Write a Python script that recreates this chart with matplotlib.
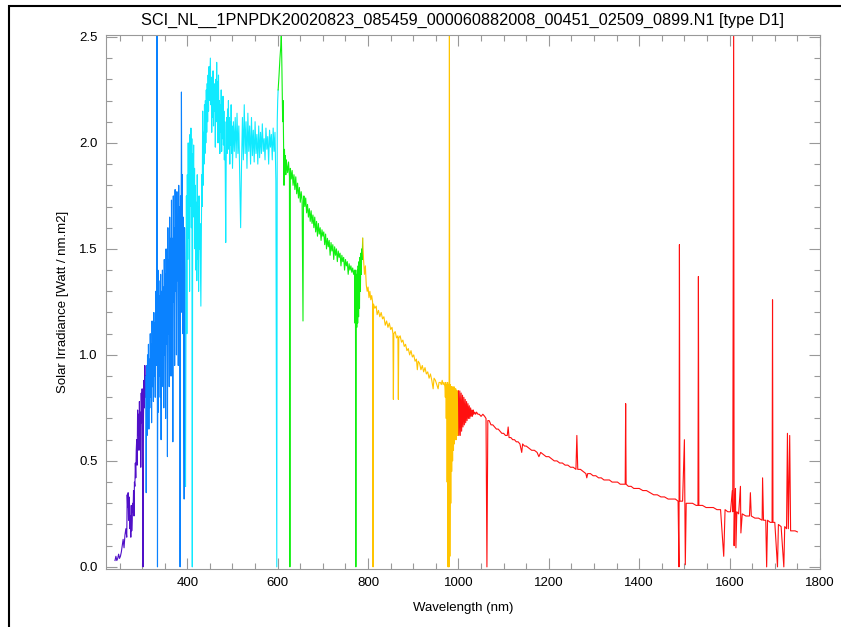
import matplotlib
matplotlib.use("Agg")
import matplotlib.pyplot as plt
from matplotlib.patches import Rectangle
from matplotlib.ticker import MultipleLocator, FormatStrFormatter

plt.rcParams['font.family'] = ['Liberation Sans', 'DejaVu Sans']

TITLE = "SCI_NL__1PNPDK20020823_085459_000060882008_00451_02509_0899.N1 [type D1]"

# irradiance per channel colour band (wavelength nm, W / nm.m2)
violet_wl = [240, 242, 244, 246, 248, 250, 252, 254, 256, 258, 260, 262, 264, 266, 267, 268,
             269, 270, 271, 272, 273, 274, 275, 276, 277, 278, 279, 280, 281, 282, 283, 284,
             285, 286, 287, 288, 289, 290, 291, 292, 293, 294, 295, 296, 297, 298, 299, 300,
             301, 302, 303, 304, 305, 306, 307, 308]
violet_irr = [.03, .05, .03, .04, .06, .04, .05, .07, .10, .13, .09, .15, .18, .14, .34, .28,
              .35, .22, .33, .30, .18, .24, .14, .29, .17, .22, .30, .26, .36, .24, .40, .38,
              .49, .42, .55, .60, .48, .74, .62, .72, .55, .78, .60, .73, .47, .82, .68, .84,
              .45, 0.0, .70, .88, .75, .95, .80, .90]

blue_wl = [308, 309, 310, 311, 312, 313, 314, 315, 316, 317, 318, 319, 320, 321, 322, 323,
           324, 325, 326, 327, 328, 329, 330, 331, 332, 333, 334, 335, 336, 337, 338, 339,
           340, 341, 342, 343, 344, 345, 346, 347, 348, 349, 350, 351, 352, 353, 354, 355,
           356, 357, 358, 359, 360, 361, 362, 363, 364, 365, 366, 367, 368, 369, 370, 371,
           372, 373, 374, 375, 376, 377, 378, 379, 380, 381, 382, 383, 384, 385, 386, 387,
           388, 389, 390, 391, 392, 393, 394, 395, 396]
blue_irr = [.90, .35, .95, .62, 1.00, .70, 1.05, .65, .98, .75, 1.10, .80, 1.05, .68, 1.16, .85,
            1.10, .78, 1.20, .90, 1.15, .80, 1.30, .95, 1.25, 2.6, 0.0, 1.40, .73, 1.35, .90, 1.28,
            .80, 1.38, .60, 1.30, .85, 1.40, .95, 1.32, .75, 1.45, 1.00, 1.38, .70, 1.50, 1.05, 1.40,
            .52, 1.60, 1.10, 1.45, .85, 1.65, 1.15, 1.55, .90, 1.73, 1.20, 1.55, .59, 1.75, 1.25, 1.60,
            .95, 1.78, 1.30, 1.62, 1.00, 1.77, 1.35, 1.65, .95, 1.80, 1.40, 1.70, 0.0, 1.75, 1.20, 2.24,
            1.45, 1.85, 1.10, 1.65, .85, .32, 1.60, 1.40, .38]

cyan_wl = [396, 398, 399, 400, 401, 402, 403, 404, 405, 406, 407, 408, 409, 410, 411, 412,
           413, 414, 415, 416, 417, 418, 419, 420, 421, 422, 423, 424, 425, 426, 427, 428,
           429, 430, 431, 432, 433, 434, 435, 436, 437, 438, 439, 440, 441, 442, 443, 444,
           445, 446, 447, 448, 449, 450, 451, 452, 453, 454, 455, 456, 457, 458, 459, 460,
           461, 462, 463, 464, 465, 466, 467, 468, 469, 470, 471, 472, 473, 474, 475, 476,
           477, 478, 479, 480, 481, 482, 483, 484, 485, 486, 487, 488, 489, 490, 491, 492,
           493, 494, 495, 496, 497, 498, 499, 500, 502, 504, 506, 508, 510, 512, 514, 516,
           518, 520, 522, 524, 526, 528, 530, 532, 534, 536, 538, 540, 542, 544, 546, 548,
           550, 552, 554, 556, 558, 560, 562, 564, 566, 568, 570, 572, 574, 576, 578, 580,
           582, 584, 586, 588, 590, 592, 594, 596, 598, 599, 600, 601]
cyan_irr = [.38, 1.75, 1.10, 1.85, 1.45, 2.00, 1.55, 1.96, 1.30, 2.04, 1.70, 2.07, 1.60, 2.02, 0.0, 1.95,
            1.80, 1.99, 1.65, 1.88, 1.50, 1.80, 1.40, 1.72, 1.35, 1.85, 1.45, 1.70, 1.30, 1.75, 1.50, 1.62,
            1.40, 1.23, 1.55, 1.85, 1.70, 2.15, 1.80, 2.05, 1.90, 2.18, 1.95, 2.20, 2.00, 2.25, 2.05, 2.28,
            2.10, 2.32, 2.15, 2.36, 2.20, 2.30, 2.40, 2.18, 2.31, 2.05, 2.30, 2.12, 2.34, 2.08, 2.28, 2.15,
            2.26, 1.98, 2.30, 2.10, 2.38, 2.15, 2.29, 2.00, 2.32, 2.04, 2.20, 1.95, 2.18, 2.05, 2.25, 1.96,
            2.15, 2.02, 2.22, 1.99, 2.15, 1.92, 2.10, 1.85, 1.53, 1.90, 2.12, 1.95, 2.16, 2.00, 2.20, 1.97,
            2.12, 1.90, 2.10, 1.99, 2.18, 1.95, 2.08, 1.88, 2.10, 1.96, 2.12, 1.93, 2.14, 1.95, 2.08, 1.85,
            1.60, 1.90, 2.12, 1.92, 2.18, 1.95, 2.10, 1.88, 2.14, 1.96, 2.08, 1.90, 2.12, 1.94, 2.06, 1.91,
            2.10, 1.95, 2.04, 1.90, 2.08, 1.93, 2.05, 1.95, 2.09, 1.96, 2.02, 1.92, 2.07, 1.97, 2.03, 1.90,
            2.06, 1.98, 2.04, 1.92, 2.07, 1.96, 2.05, 1.82, 0.0, 2.10, 2.20, 2.25]

green_wl = [601, 603, 605, 607, 608, 609, 610, 611, 612, 613, 614, 615, 616, 617, 618, 619,
            620, 622, 624, 626, 627, 628, 630, 632, 634, 636, 638, 640, 642, 644, 646, 648,
            650, 652, 654, 656, 657, 658, 660, 662, 664, 666, 668, 670, 672, 674, 676, 678,
            680, 682, 684, 686, 688, 690, 692, 694, 696, 698, 700, 702, 704, 706, 708, 710,
            712, 714, 716, 718, 720, 722, 724, 726, 728, 730, 732, 734, 736, 738, 740, 742,
            744, 746, 748, 750, 752, 754, 756, 758, 760, 762, 764, 766, 768, 770, 771, 772,
            773, 774, 775, 776, 777, 778, 779, 780, 781, 782, 783, 784, 785, 786, 787, 788]
green_irr = [2.25, 2.32, 2.40, 2.46, 2.51, 2.40, 2.25, 2.10, 2.20, 2.00, 1.80, 1.97, 1.88, 1.94, 1.85, 1.92,
             1.90, 1.86, 1.91, 1.84, 0.0, 1.88, 1.83, 1.87, 1.80, 1.85, 1.78, 1.84, 1.76, 1.81, 1.74, 1.79,
             1.72, 1.77, 1.73, 1.16, 1.72, 1.75, 1.70, 1.74, 1.67, 1.71, 1.65, 1.69, 1.63, 1.68, 1.62, 1.66,
             1.60, 1.65, 1.58, 1.63, 1.56, 1.62, 1.57, 1.60, 1.54, 1.59, 1.56, 1.58, 1.52, 1.57, 1.50, 1.55,
             1.51, 1.54, 1.47, 1.53, 1.49, 1.52, 1.45, 1.51, 1.47, 1.50, 1.44, 1.49, 1.46, 1.48, 1.42, 1.47,
             1.44, 1.46, 1.40, 1.45, 1.42, 1.44, 1.38, 1.43, 1.40, 1.42, 1.39, 1.41, 1.38, 1.40, 1.15, 1.40,
             0.0, 1.38, 1.13, 1.40, 1.15, 1.42, 1.18, 1.44, 1.22, 1.46, 1.30, 1.48, 1.38, 1.50, 1.45, 1.55]

orange_wl = [788, 790, 792, 794, 796, 798, 800, 802, 804, 806, 808, 810, 811, 812, 815, 818,
             820, 823, 826, 829, 832, 835, 838, 841, 844, 847, 850, 853, 855, 856, 857, 860,
             863, 866, 867, 868, 871, 874, 877, 880, 883, 886, 889, 892, 895, 898, 901, 904,
             907, 909, 911, 914, 917, 920, 923, 926, 929, 932, 935, 938, 941, 944, 946, 949,
             952, 955, 957, 960, 962, 964, 966, 968, 970, 971, 972, 973, 974, 975, 976, 977,
             978, 979, 980, 981, 982, 983, 984, 985, 986, 987, 988, 989, 990, 991, 992, 993,
             994, 995, 996, 997, 998, 999, 1000]
orange_irr = [1.55, 1.45, 1.38, 1.42, 1.33, 1.30, 1.32, 1.27, 1.30, 1.26, 1.28, 1.25, 0.0, 1.24, 1.22, 1.23,
              1.19, 1.21, 1.18, 1.20, 1.17, 1.18, 1.14, 1.16, 1.13, 1.15, 1.12, 1.13, 1.10, .79, 1.10, 1.11,
              1.08, 1.09, .79, 1.08, 1.09, 1.06, 1.07, 1.04, 1.05, 1.02, 1.03, 1.00, 1.02, .99, 1.00, .97,
              .98, .93, .97, .96, .93, .95, .92, .94, .91, .92, .89, .91, .88, .84, .89, .88,
              .86, .84, .87, .87, .86, .88, .86, .87, .85, .80, .87, .70, .86, .40, .87, 0.0,
              .86, 0.0, 2.6, .05, .86, .30, .85, .45, .85, .50, .84, .55, .85, .58, .84, .60,
              .84, .60, .83, .62, .83, .62, .83]

red_wl = [1000, 1001, 1003, 1004, 1006, 1007, 1009, 1010, 1012, 1013, 1015, 1016, 1018, 1019, 1021, 1022,
          1024, 1025, 1027, 1028, 1030, 1031, 1033, 1034, 1036, 1038, 1040, 1043, 1046, 1050, 1054, 1058,
          1061, 1063, 1065, 1068, 1072, 1076, 1080, 1084, 1088, 1092, 1096, 1100, 1104, 1108, 1110, 1112,
          1116, 1120, 1124, 1128, 1132, 1136, 1140, 1142, 1146, 1150, 1156, 1162, 1168, 1174, 1178, 1182,
          1188, 1194, 1200, 1206, 1212, 1218, 1224, 1230, 1236, 1242, 1248, 1254, 1260, 1262, 1264, 1270,
          1276, 1282, 1284, 1286, 1292, 1298, 1304, 1310, 1316, 1322, 1328, 1334, 1340, 1346, 1352, 1358,
          1364, 1369, 1370, 1371, 1376, 1382, 1388, 1394, 1400, 1408, 1416, 1424, 1432, 1440, 1448, 1456,
          1464, 1472, 1480, 1486, 1488, 1489, 1490, 1496, 1500, 1502, 1504, 1510, 1518, 1526, 1530, 1531,
          1532, 1540, 1548, 1556, 1564, 1572, 1580, 1587, 1590, 1596, 1602, 1606, 1607, 1609, 1610, 1611,
          1613, 1614, 1616, 1620, 1624, 1625, 1628, 1636, 1644, 1646, 1648, 1656, 1664, 1672, 1673, 1675,
          1680, 1682, 1684, 1690, 1694, 1695, 1696, 1700, 1706, 1708, 1714, 1720, 1722, 1726, 1728, 1730,
          1733, 1735, 1740, 1745, 1750]
red_irr = [.83, .62, .83, .62, .82, .64, .81, .66, .80, .67, .79, .68, .78, .69, .77, .70,
           .76, .70, .75, .71, .74, .71, .74, .72, .73, .72, .73, .72, .72, .71, .72, .71,
           .70, 0.0, .69, .69, .67, .67, .66, .65, .65, .64, .63, .63, .62, .62, .66, .61,
           .61, .60, .60, .59, .59, .58, .54, .58, .57, .57, .56, .55, .55, .54, .52, .54,
           .53, .52, .52, .51, .50, .50, .49, .49, .48, .48, .47, .47, .46, .62, .46, .46,
           .45, .44, .42, .44, .44, .43, .43, .42, .42, .41, .41, .41, .40, .40, .40, .39,
           .39, .39, .77, .39, .38, .38, .37, .37, .37, .36, .36, .35, .34, .34, .33, .33,
           .32, .32, .32, .31, 0.0, 1.52, .31, .31, .60, .01, .30, .30, .30, .29, .29, 1.37,
           .29, .29, .28, .28, .28, .27, .27, .05, .27, .26, .26, .36, .26, 2.6, .10, .26,
           .37, .09, .26, .25, .38, .16, .25, .24, .24, .35, .24, .23, .23, .22, .42, .22,
           .22, 0.0, .22, .21, .21, 1.26, .21, .21, 0.0, .20, .19, 0.0, .19, .18, .63, .18,
           .62, .17, .17, .17, .165]

bands = [
    (violet_wl, violet_irr, '#5010c8'),
    (blue_wl, blue_irr, '#0a82ff'),
    (cyan_wl, cyan_irr, '#10eaff'),
    (green_wl, green_irr, '#10f010'),
    (orange_wl, orange_irr, '#ffc400'),
    (red_wl, red_irr, '#ff1010'),
]

fig = plt.figure(figsize=(8.41, 6.27), dpi=100)
ax = fig.add_axes([0.126, 0.0925, 0.849, 0.852])

for wl, irr, col in bands:
    ax.plot(wl, irr, color=col, lw=0.8)

ax.set_xlim(220, 1800)
ax.set_ylim(-0.01, 2.51)
ax.xaxis.set_major_locator(MultipleLocator(200))
ax.xaxis.set_minor_locator(MultipleLocator(50))
ax.yaxis.set_major_locator(MultipleLocator(0.5))
ax.yaxis.set_minor_locator(MultipleLocator(0.1))
ax.yaxis.set_major_formatter(FormatStrFormatter('%.1f'))

ax.tick_params(which='both', direction='in', top=True, right=True, color='#999999',
               labelsize=9.5, width=0.8)
ax.tick_params(which='major', length=8, pad=6)
ax.tick_params(which='minor', length=4.3)
for sp in ax.spines.values():
    sp.set_color('#999999')
    sp.set_linewidth(0.8)

ax.set_xlabel('Wavelength (nm)', fontsize=9.5, labelpad=9)
ax.set_ylabel('Solar Irradiance [Watt / nm.m2]', fontsize=9.5, labelpad=7)
ax.set_title(TITLE, fontsize=11.7, pad=7)

# thin frame round the page
fig.patches.append(Rectangle((9 / 841, -0.1), 1.2, 1.1 - 6 / 627, transform=fig.transFigure,
                             fill=False, edgecolor='black', lw=1.5, clip_on=False))

fig.savefig('out.png', dpi=100)
